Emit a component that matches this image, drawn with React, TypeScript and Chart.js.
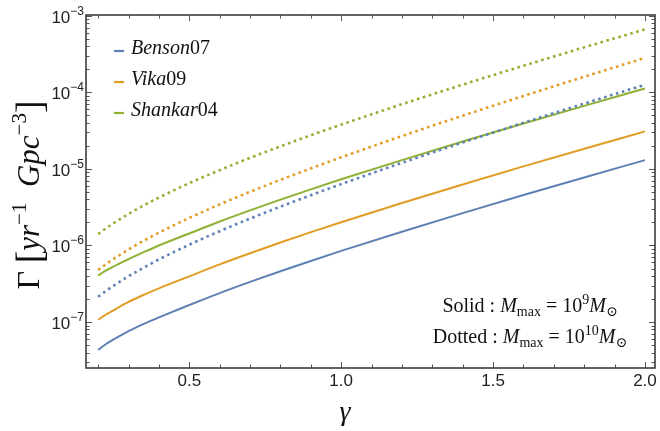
import React, { useEffect, useRef } from "react";
import { Chart, registerables } from "chart.js";

Chart.register(...registerables);

// ---- data ----
const gammas = [0.2, 0.225, 0.25, 0.3, 0.35, 0.4, 0.5, 0.6, 0.7, 0.8, 0.9, 1.0, 1.2, 1.4, 1.6, 1.8, 2.0];

const bensonSolid = [4.31e-8, 5.13e-8, 5.89e-8, 7.59e-8, 9.44e-8, 1.148e-7, 1.667e-7, 2.388e-7, 3.342e-7, 4.613e-7, 6.281e-7, 8.492e-7, 1.514e-6, 2.642e-6, 4.55e-6, 7.727e-6, 1.303e-5];
const vikaSolid = [1.072e-7, 1.245e-7, 1.419e-7, 1.828e-7, 2.265e-7, 2.754e-7, 3.954e-7, 5.662e-7, 7.925e-7, 1.094e-6, 1.489e-6, 2.014e-6, 3.589e-6, 6.266e-6, 1.079e-5, 1.832e-5, 3.09e-5];
const shankarSolid = [4.064e-7, 4.677e-7, 5.309e-7, 6.637e-7, 8.185e-7, 1.0e-6, 1.435e-6, 2.056e-6, 2.877e-6, 3.972e-6, 5.408e-6, 7.311e-6, 1.303e-5, 2.275e-5, 3.917e-5, 6.653e-5, 1.122e-4];

const bensonDotted = [2.138e-7, 2.535e-7, 2.965e-7, 3.963e-7, 5.14e-7, 6.561e-7, 1.023e-6, 1.535e-6, 2.244e-6, 3.214e-6, 4.529e-6, 6.324e-6, 1.199e-5, 2.213e-5, 3.999e-5, 7.129e-5, 1.256e-4];
const vikaDotted = [4.786e-7, 5.675e-7, 6.637e-7, 8.872e-7, 1.151e-6, 1.469e-6, 2.291e-6, 3.436e-6, 5.023e-6, 7.194e-6, 1.014e-5, 1.416e-5, 2.685e-5, 4.955e-5, 8.954e-5, 1.596e-4, 2.812e-4];
const shankarDotted = [1.413e-6, 1.667e-6, 1.945e-6, 2.582e-6, 3.334e-6, 4.227e-6, 6.516e-6, 9.638e-6, 1.393e-5, 1.968e-5, 2.748e-5, 3.784e-5, 6.998e-5, 1.259e-4, 2.223e-4, 3.864e-4, 6.637e-4];

const seriesNames = ["Benson07", "Vika09", "Shankar04"];
const seriesColors = ["#5E81B5", "#E19C24", "#8FB032"];

const xTickValues = [0.5, 1.0, 1.5, 2.0];
const xTickLabels = ["0.5", "1.0", "1.5", "2.0"];
const yTickExponents = [-7, -6, -5, -4, -3];

const X_MIN = 0.16;
const X_MAX = 2.033;
const Y_MIN = 2.51e-8;
const Y_MAX = 1.023e-3;

type Run = { t: string; f: string; dy?: number };

function drawRuns(ctx: CanvasRenderingContext2D, runs: Run[], x: number, y: number, align: "left" | "center" | "right") {
  let total = 0;
  const widths = runs.map((r) => {
    ctx.font = r.f;
    const w = ctx.measureText(r.t).width;
    total += w;
    return w;
  });
  let cx = x;
  if (align === "center") cx = x - total / 2;
  if (align === "right") cx = x - total;
  ctx.textAlign = "left";
  ctx.textBaseline = "alphabetic";
  runs.forEach((r, i) => {
    ctx.font = r.f;
    ctx.fillText(r.t, cx, y + (r.dy || 0));
    cx += widths[i];
  });
}

const SERIF = '"Liberation Serif", "DejaVu Serif", serif';
const SANS = '"Liberation Sans", Arial, sans-serif';

const overlayPlugin = {
  id: "overlay",
  afterDraw(chart: any) {
    const { ctx, chartArea: a, scales } = chart;
    const xs = scales.x;
    const ys = scales.y;
    ctx.save();

    // ticks (inward, mirrored)
    ctx.strokeStyle = "#555";
    ctx.lineWidth = 1;
    const seg = (x1: number, y1: number, x2: number, y2: number) => {
      ctx.beginPath();
      ctx.moveTo(x1, y1);
      ctx.lineTo(x2, y2);
      ctx.stroke();
    };
    const xTick = (v: number, len: number) => {
      const px = Math.round(xs.getPixelForValue(v)) + 0.5;
      seg(px, a.bottom, px, a.bottom - len);
      seg(px, a.top, px, a.top + len);
    };
    const yTick = (v: number, len: number) => {
      const py = Math.round(ys.getPixelForValue(v)) + 0.5;
      seg(a.left, py, a.left + len, py);
      seg(a.right, py, a.right - len, py);
    };
    for (let k = 2; k <= 20; k++) {
      const v = k / 10;
      if (v < X_MIN || v > X_MAX) continue;
      if (k % 5 === 0) xTick(v, 6);
      else xTick(v, 3.5);
    }
    for (let d = -8; d <= -3; d++) {
      for (let m = 1; m <= 9; m++) {
        const v = m * Math.pow(10, d);
        if (v < Y_MIN || v > Y_MAX) continue;
        yTick(v, m === 1 ? 6 : 3.5);
      }
    }

    // frame
    ctx.strokeStyle = "#3c3c3c";
    ctx.lineWidth = 1.6;
    ctx.strokeRect(a.left, a.top, a.right - a.left, a.bottom - a.top);

    // x tick labels
    ctx.fillStyle = "#222";
    ctx.font = `17px ${SANS}`;
    ctx.textAlign = "center";
    ctx.textBaseline = "alphabetic";
    xTickValues.forEach((v, i) => {
      ctx.fillText(xTickLabels[i], xs.getPixelForValue(v), 386);
    });

    // y tick labels 10^n
    yTickExponents.forEach((e) => {
      const py = ys.getPixelForValue(Math.pow(10, e));
      drawRuns(
        ctx,
        [
          { t: "10", f: `17px ${SANS}` },
          { t: "\u2212" + Math.abs(e), f: `12px ${SANS}`, dy: -8 },
        ],
        84,
        py + 7,
        "right"
      );
    });

    // axis titles
    ctx.fillStyle = "#111";
    drawRuns(ctx, [{ t: "\u03B3", f: `italic 28px ${SERIF}` }], 345, 420, "center");

    ctx.save();
    ctx.translate(39, 195);
    ctx.rotate(-Math.PI / 2);
    drawRuns(
      ctx,
      [
        { t: "\u0393", f: `32px ${SERIF}` },
        { t: " ", f: `31px ${SERIF}` },
        { t: "[", f: `38px ${SERIF}`, dy: 3 },
        { t: "yr", f: `italic 31px ${SERIF}` },
        { t: "\u22121", f: `21px ${SERIF}`, dy: -13 },
        { t: "  ", f: `31px ${SERIF}` },
        { t: "Gpc", f: `italic 31px ${SERIF}` },
        { t: "\u22123", f: `21px ${SERIF}`, dy: -13 },
        { t: "]", f: `38px ${SERIF}`, dy: 3 },
      ],
      0,
      0,
      "center"
    );
    ctx.restore();

    // legend
    const legY = [51, 82, 113];
    seriesNames.forEach((name, i) => {
      ctx.strokeStyle = seriesColors[i];
      ctx.lineWidth = 2.2;
      seg(114, legY[i], 124, legY[i]);
      const m = name.match(/^([A-Za-z]+)(\d+)$/);
      const letters = m ? m[1] : name;
      const digits = m ? m[2] : "";
      ctx.fillStyle = "#111";
      drawRuns(
        ctx,
        [
          { t: letters, f: `italic 20px ${SERIF}` },
          { t: digits, f: `20px ${SERIF}` },
        ],
        131,
        legY[i] + 3,
        "left"
      );
    });

    // annotation
    ctx.fillStyle = "#111";
    const main = `20px ${SERIF}`;
    const ital = `italic 20px ${SERIF}`;
    const small = `14px ${SERIF}`;
    drawRuns(
      ctx,
      [
        { t: "Solid : ", f: main },
        { t: "M", f: ital },
        { t: "max", f: small, dy: 4 },
        { t: " = 10", f: main },
        { t: "9", f: small, dy: -8 },
        { t: "M", f: ital },
        { t: "\u2299", f: small, dy: 4 },
      ],
      530,
      312,
      "center"
    );
    drawRuns(
      ctx,
      [
        { t: "Dotted : ", f: main },
        { t: "M", f: ital },
        { t: "max", f: small, dy: 4 },
        { t: " = 10", f: main },
        { t: "10", f: small, dy: -8 },
        { t: "M", f: ital },
        { t: "\u2299", f: small, dy: 4 },
      ],
      530,
      343,
      "center"
    );

    ctx.restore();
  },
};

function makeDataset(values: number[], color: string, dotted: boolean) {
  return {
    data: gammas.map((g, i) => ({ x: g, y: values[i] })),
    borderColor: color,
    backgroundColor: color,
    borderWidth: dotted ? 2.6 : 2,
    borderDash: dotted ? [2.6, 3.6] : [],
    pointRadius: 0,
    fill: false,
    cubicInterpolationMode: "monotone" as const,
  };
}

export default function App() {
  const canvasRef = useRef<HTMLCanvasElement | null>(null);

  useEffect(() => {
    document.body.style.margin = "0";
    const canvas = canvasRef.current;
    if (!canvas) return;
    const chart = new Chart(canvas, {
      type: "line",
      data: {
        datasets: [
          makeDataset(bensonDotted, seriesColors[0], true),
          makeDataset(vikaDotted, seriesColors[1], true),
          makeDataset(shankarDotted, seriesColors[2], true),
          makeDataset(bensonSolid, seriesColors[0], false),
          makeDataset(vikaSolid, seriesColors[1], false),
          makeDataset(shankarSolid, seriesColors[2], false),
        ],
      },
      options: {
        animation: false,
        responsive: false,
        devicePixelRatio: 1,
        layout: { padding: { left: 86, top: 15, right: 5, bottom: 63 } },
        plugins: { legend: { display: false }, tooltip: { enabled: false } },
        scales: {
          x: { type: "linear", min: X_MIN, max: X_MAX, display: false },
          y: { type: "logarithmic", min: Y_MIN, max: Y_MAX, display: false },
        },
      },
      plugins: [overlayPlugin],
    });
    return () => chart.destroy();
  }, []);

  return (
    <div style={{ width: 660, height: 431, background: "#fff" }}>
      <canvas ref={canvasRef} width={660} height={431} />
    </div>
  );
}
